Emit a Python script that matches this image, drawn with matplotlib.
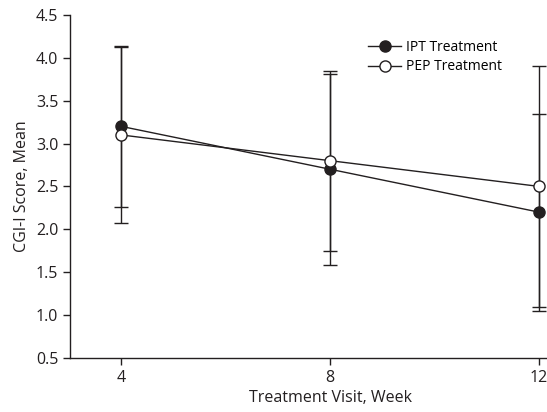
import matplotlib
matplotlib.use("Agg")
import matplotlib.pyplot as plt

plt.rcParams["font.family"] = ["Open Sans", "DejaVu Sans"]

weeks = [4, 8, 12]
week_labels = ["4", "8", "12"]

ipt_mean = [3.2, 2.7, 2.2]
ipt_sd = [0.94, 1.11, 1.15]
pep_mean = [3.1, 2.8, 2.5]
pep_sd = [1.03, 1.05, 1.40]

ink = "#231f20"

fig = plt.figure(figsize=(5.47, 4.12), dpi=100)
ax = fig.add_axes([0.128, 0.131, 0.872, 0.833])

ax.errorbar(weeks, ipt_mean, yerr=ipt_sd, color=ink, lw=1.0, marker="o",
            ms=8, mfc=ink, mec=ink, mew=1.0, capsize=5, capthick=1.0,
            elinewidth=1.0, label="IPT Treatment", zorder=3)
ax.errorbar(weeks, pep_mean, yerr=pep_sd, color=ink, lw=1.0, marker="o",
            ms=8, mfc="white", mec=ink, mew=1.0, capsize=5, capthick=1.0,
            elinewidth=1.0, label="PEP Treatment", zorder=4)

ax.set_xlim(3.02, 12.15)
ax.set_ylim(0.5, 4.5)
ax.set_xticks(weeks)
ax.set_xticklabels(week_labels)
ax.set_yticks([0.5, 1.0, 1.5, 2.0, 2.5, 3.0, 3.5, 4.0, 4.5])
ax.set_yticklabels(["0.5", "1.0", "1.5", "2.0", "2.5", "3.0", "3.5", "4.0", "4.5"])

for s in ["top", "right"]:
    ax.spines[s].set_visible(False)
for s in ["left", "bottom"]:
    ax.spines[s].set_color(ink)
    ax.spines[s].set_linewidth(1.0)
ax.tick_params(colors=ink, labelcolor=ink, labelsize=11.5, length=5, width=1.0)

ax.set_xlabel("Treatment Visit, Week", fontsize=11.5, color=ink)
ax.xaxis.set_label_coords((8 - 3.02) / (12.15 - 3.02), -0.092)
ax.set_ylabel("CGI-I Score, Mean", fontsize=11.5, color=ink)

handles, labels = ax.get_legend_handles_labels()
handles = [h[0] for h in handles]
ax.legend(handles, labels, loc="upper left", bbox_to_anchor=(0.625, 0.928),
          frameon=False, fontsize=10, handlelength=2.4, handletextpad=0.3,
          labelspacing=0.35, borderaxespad=0, borderpad=0)

fig.savefig("out.png", dpi=100)
